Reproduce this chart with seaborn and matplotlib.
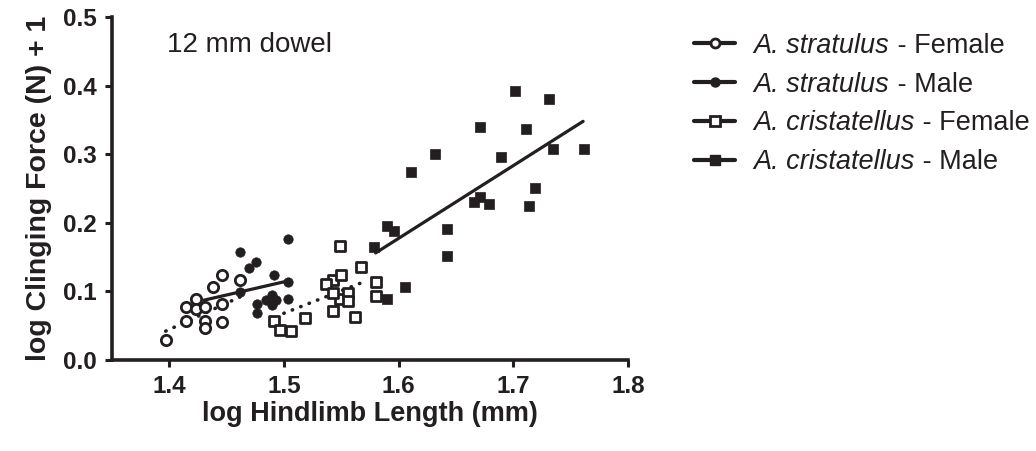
import matplotlib
matplotlib.use("Agg")
import matplotlib.pyplot as plt
from matplotlib.lines import Line2D
import seaborn as sns

# values
strat_f_x = [1.397, 1.415, 1.415, 1.423, 1.423, 1.431, 1.431, 1.431, 1.446, 1.446, 1.438, 1.446, 1.462]
strat_f_y = [0.029, 0.057, 0.077, 0.089, 0.074, 0.077, 0.057, 0.047, 0.082, 0.055, 0.106, 0.124, 0.117]

strat_m_x = [1.504, 1.462, 1.470, 1.476, 1.491, 1.504, 1.504, 1.477, 1.477, 1.484, 1.490, 1.490, 1.462, 1.493]
strat_m_y = [0.176, 0.157, 0.134, 0.143, 0.124, 0.114, 0.089, 0.082, 0.069, 0.087, 0.095, 0.080, 0.099, 0.088]

crist_f_x = [1.491, 1.497, 1.506, 1.518, 1.543, 1.549, 1.543, 1.550, 1.537, 1.556, 1.556, 1.562, 1.549, 1.567, 1.580, 1.580, 1.543]
crist_f_y = [0.057, 0.044, 0.042, 0.061, 0.071, 0.089, 0.117, 0.124, 0.111, 0.098, 0.086, 0.063, 0.166, 0.136, 0.114, 0.093, 0.098]

crist_m_x = [1.702, 1.731, 1.671, 1.711, 1.735, 1.762, 1.632, 1.689, 1.611, 1.719, 1.671, 1.666, 1.679, 1.714, 1.590, 1.596, 1.579, 1.642, 1.642, 1.606, 1.590]
crist_m_y = [0.392, 0.380, 0.340, 0.337, 0.308, 0.308, 0.300, 0.296, 0.274, 0.251, 0.238, 0.230, 0.227, 0.224, 0.195, 0.188, 0.165, 0.191, 0.152, 0.106, 0.089]

# regression line ends
strat_f_fit_x = [1.397, 1.462]
strat_f_fit_y = [0.042, 0.092]
strat_m_fit_x = [1.430, 1.503]
strat_m_fit_y = [0.087, 0.115]
crist_f_fit_x = [1.500, 1.573]
crist_f_fit_y = [0.068, 0.116]
crist_m_fit_x = [1.580, 1.761]
crist_m_fit_y = [0.156, 0.348]

x_ticks = [1.4, 1.5, 1.6, 1.7, 1.8]
y_ticks = [0.0, 0.1, 0.2, 0.3, 0.4, 0.5]

species = ["A. stratulus", "A. stratulus", "A. cristatellus", "A. cristatellus"]
sexes = [" - Female", " - Male", " - Female", " - Male"]

ink = "#231f20"

sns.set_style("ticks")
plt.rcParams["font.family"] = ["Liberation Sans", "DejaVu Sans"]

fig = plt.figure(figsize=(10.36, 4.51), dpi=100)
ax = fig.add_axes([0.108, 0.202, 0.498, 0.760])

dotted = dict(color=ink, linewidth=2.6, linestyle=(0, (0.1, 2.4)), dash_capstyle="round")
solid = dict(color=ink, linewidth=2.3, linestyle="-")

sns.lineplot(x=strat_f_fit_x, y=strat_f_fit_y, ax=ax, **dotted)
sns.lineplot(x=strat_m_fit_x, y=strat_m_fit_y, ax=ax, **solid)
sns.lineplot(x=crist_f_fit_x, y=crist_f_fit_y, ax=ax, **dotted)
sns.lineplot(x=crist_m_fit_x, y=crist_m_fit_y, ax=ax, **solid)

sns.scatterplot(x=strat_m_x, y=strat_m_y, ax=ax, marker="o", s=46,
                color=ink, edgecolor=ink, linewidth=0.5, zorder=3)
sns.scatterplot(x=strat_f_x, y=strat_f_y, ax=ax, marker="o", s=55,
                facecolor="white", edgecolor=ink, linewidth=2.0, zorder=4)
sns.scatterplot(x=crist_m_x, y=crist_m_y, ax=ax, marker="s", s=62,
                color=ink, edgecolor=ink, linewidth=0.5, zorder=3)
sns.scatterplot(x=crist_f_x, y=crist_f_y, ax=ax, marker="s", s=56,
                facecolor="white", edgecolor=ink, linewidth=2.0, zorder=4)

ax.set_xlim(1.35, 1.8)
ax.set_ylim(0, 0.5)
ax.set_xticks(x_ticks)
ax.set_yticks(y_ticks)
ax.set_xticklabels([f"{v:.1f}" for v in x_ticks])
ax.set_yticklabels([f"{v:.1f}" for v in y_ticks])
for lbl in ax.get_xticklabels() + ax.get_yticklabels():
    lbl.set_fontweight("bold")
    lbl.set_fontsize(17.5)
    lbl.set_color(ink)
ax.tick_params(direction="out", length=5, width=2.2, color=ink, pad=6)
sns.despine(ax=ax)
for side in ["left", "bottom"]:
    ax.spines[side].set_linewidth(2.6)
    ax.spines[side].set_color(ink)

ax.set_xlabel("log Hindlimb Length (mm)", fontsize=19.5, fontweight="bold", color=ink, labelpad=2)
ax.set_ylabel("log Clinging Force (N) + 1", fontsize=20.5, fontweight="bold", color=ink, labelpad=8)

ax.text(1.398, 0.46, "12 mm dowel", fontsize=20, color=ink, va="center", ha="left")

handles = [
    Line2D([], [], color=ink, lw=3, marker="o", ms=6.5, mfc="white", mec=ink, mew=2),
    Line2D([], [], color=ink, lw=3, marker="o", ms=6.5, mfc=ink, mec=ink),
    Line2D([], [], color=ink, lw=3, marker="s", ms=6.5, mfc="white", mec=ink, mew=2),
    Line2D([], [], color=ink, lw=3, marker="s", ms=6.5, mfc=ink, mec=ink),
]
leg = fig.legend(handles, species, loc="upper left", bbox_to_anchor=(0.657, 0.957),
                 frameon=False, handlelength=1.5, handletextpad=0.7,
                 labelspacing=0.47, borderpad=0, labelcolor=ink,
                 prop=dict(family="Liberation Sans", style="italic", size=19.5))

# the " - Female"/" - Male" part is upright, so put it right after each italic name
fig.canvas.draw()
W, H = fig.canvas.get_width_height()
for t, sx in zip(leg.get_texts(), sexes):
    bb = t.get_window_extent()
    fig.text(bb.x1 / W, bb.y0 / H, sx, fontsize=19.5, color=ink, va="bottom", ha="left")

fig.savefig("out.png", dpi=100)
